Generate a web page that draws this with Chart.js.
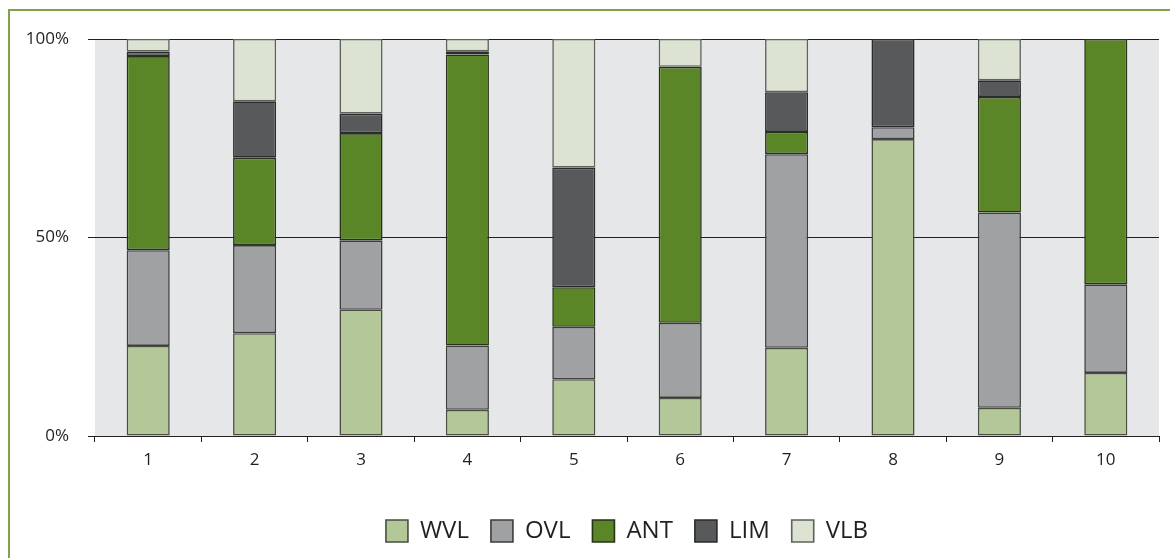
<!DOCTYPE html>
<html>
<head>
<meta charset="utf-8">
<script src="https://cdn.jsdelivr.net/npm/chart.js@4"></script>
<style>
  html, body { margin: 0; padding: 0; background: #fff; overflow: hidden; }
  #frame { position: absolute; left: 8px; top: 9px; width: 1200px; height: 600px;
           border-top: 2px solid #83a04a; border-left: 2px solid #83a04a; }
  #wrap { position: absolute; left: 0; top: 0; width: 1170px; height: 553px; }
</style>
</head>
<body>
<div id="frame"></div>
<div id="wrap"><canvas id="stackChart"></canvas></div>
<script>
// categories and shares (%)
var categories = ['1', '2', '3', '4', '5', '6', '7', '8', '9', '10'];
var seriesNames = ['WVL', 'OVL', 'ANT', 'LIM', 'VLB'];
var valuesWVL = [22.7, 25.9, 31.8, 6.6, 14.3, 9.6, 22.2, 74.8, 7.1, 15.9];
var valuesOVL = [24.1, 22.2, 17.5, 16.2, 13.2, 18.9, 48.8, 3.0, 49.2, 22.3];
var valuesANT = [48.9, 22.0, 27.0, 73.3, 10.0, 64.5, 5.6, 0, 29.1, 61.8];
var valuesLIM = [1.1, 14.2, 4.9, 0.8, 30.1, 0, 10.0, 22.2, 4.2, 0];
var valuesVLB = [3.2, 15.7, 18.8, 3.1, 32.4, 7.0, 13.4, 0, 10.4, 0];
var yTicks = [0, 50, 100];

var fillColors = ['#b3c799', '#a0a1a3', '#5b8628', '#58595b', '#dce3d2'];
var edgeColors = ['#4a4e42', '#3c3d3e', '#26321a', '#2a2b2c', '#5f615b'];
var allValues = [valuesWVL, valuesOVL, valuesANT, valuesLIM, valuesVLB];

var datasets = [];
for (var i = 0; i < seriesNames.length; i++) {
  datasets.push({
    label: seriesNames[i],
    data: allValues[i],
    backgroundColor: fillColors[i],
    borderColor: edgeColors[i],
    borderWidth: 1.6,
    borderSkipped: false,
    barPercentage: 0.405,
    categoryPercentage: 1.0
  });
}

var textColor = '#231f20';

// grey plot background
var plotBackground = {
  id: 'plotBackground',
  beforeDraw: function(chart) {
    var a = chart.chartArea;
    var ctx = chart.ctx;
    ctx.save();
    ctx.fillStyle = '#e6e7e9';
    ctx.fillRect(a.left, a.top, a.right - a.left, a.bottom - a.top);
    ctx.restore();
  }
};

var config = {
  type: 'bar',
  data: { labels: categories, datasets: datasets },
  plugins: [plotBackground],
  options: {
    responsive: true,
    maintainAspectRatio: false,
    animation: false,
    layout: { padding: { top: 39, right: 11, bottom: 0, left: 0 } },
    plugins: {
      tooltip: { enabled: false },
      legend: {
        position: 'bottom',
        fullSize: false,
        labels: {
          color: textColor,
          font: { family: '"Open Sans", sans-serif', size: 24 },
          boxWidth: 22,
          boxHeight: 22,
          padding: 22
        }
      }
    },
    scales: {
      x: {
        stacked: true,
        afterFit: function(axis) { axis.height = 61; },
        grid: { drawOnChartArea: false, drawTicks: true, tickLength: 6, color: textColor, offset: true },
        border: { display: true, color: textColor, width: 1 },
        ticks: { color: textColor, padding: 8, font: { family: '"Open Sans", sans-serif', size: 17 } }
      },
      y: {
        stacked: true,
        min: 0,
        max: 100,
        afterFit: function(axis) { axis.width = 95; },
        afterBuildTicks: function(axis) {
          axis.ticks = yTicks.map(function(v) { return { value: v }; });
        },
        grid: { color: textColor, lineWidth: 1, drawTicks: true, tickLength: 7 },
        border: { display: false },
        ticks: {
          color: textColor,
          padding: 19,
          font: { family: '"Open Sans", sans-serif', size: 17 },
          callback: function(v) { return v + '%'; }
        }
      }
    }
  }
};

new Chart(document.getElementById('stackChart'), config);
</script>
</body>
</html>
